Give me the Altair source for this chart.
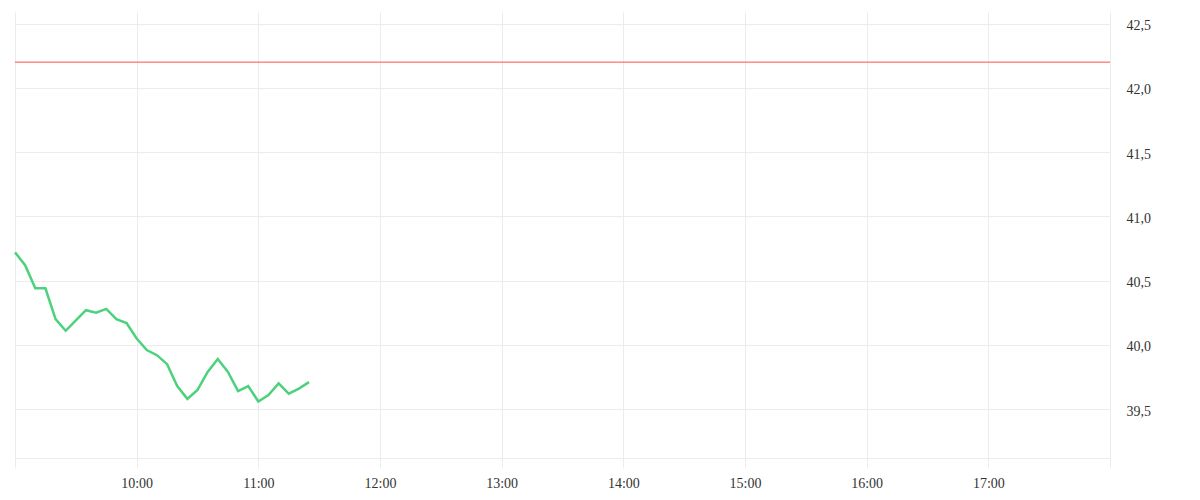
import altair as alt
import pandas as pd

times = ["09:00", "09:05", "09:10", "09:15", "09:20", "09:25", "09:30", "09:35", "09:40", "09:45",
         "09:50", "09:55", "10:00", "10:05", "10:10", "10:15", "10:20", "10:25", "10:30", "10:35",
         "10:40", "10:45", "10:50", "10:55", "11:00", "11:05", "11:10", "11:15", "11:20", "11:25"]
prices = [40.72, 40.62, 40.44, 40.44, 40.20, 40.11, 40.19, 40.27, 40.25, 40.28,
          40.20, 40.17, 40.05, 39.96, 39.92, 39.85, 39.68, 39.58, 39.65, 39.79,
          39.89, 39.79, 39.64, 39.68, 39.56, 39.61, 39.70, 39.62, 39.66, 39.71]
reference_level = [42.2]
y_ticks = [39.5, 40.0, 40.5, 41.0, 41.5, 42.0, 42.5]
hours = [9, 10, 11, 12, 13, 14, 15, 16, 17, 18]

df = pd.DataFrame({"t": ["2024-01-01T" + t + ":00" for t in times], "price": prices})
ref = pd.DataFrame({"level": reference_level})

FONT = "Liberation Serif"
GRID = "#ececec"

x_scale = alt.Scale(domain=[alt.DateTime(year=2024, month=1, date=1, hours=9),
                            alt.DateTime(year=2024, month=1, date=1, hours=18)])
y_scale = alt.Scale(domain=[39.12, 42.59], nice=False, zero=False)

x_axis = alt.Axis(
    title=None,
    values=[alt.DateTime(year=2024, month=1, date=1, hours=h) for h in hours],
    labelExpr="hours(datum.value) >= 10 && hours(datum.value) <= 17 ? timeFormat(datum.value, '%H:%M') : ''",
    grid=True, gridColor=GRID, gridWidth=1,
    domain=True, domainColor=GRID, domainWidth=1,
    ticks=True, tickColor=GRID, tickSize=10, tickWidth=1,
    labelFont=FONT, labelFontSize=14, labelColor="#333333", labelPadding=8,
)
y_axis = alt.Axis(
    title=None, orient="right", values=y_ticks,
    labelExpr="replace(format(datum.value, '.1f'), '.', ',')",
    grid=True, gridColor=GRID, gridWidth=1,
    domain=False, ticks=False,
    labelFont=FONT, labelFontSize=14, labelColor="#333333", labelPadding=16,
    labelOffset=2,
)

line = alt.Chart(df).mark_line(color="#4cd27c", strokeWidth=2.5).encode(
    x=alt.X("t:T", scale=x_scale, axis=x_axis),
    y=alt.Y("price:Q", scale=y_scale, axis=y_axis),
)

rule = alt.Chart(ref).mark_rule(color="#ff4d4d", strokeWidth=1).encode(
    y=alt.Y("level:Q", scale=y_scale),
)

chart = alt.layer(line, rule).properties(
    width=1095, height=446,
    autosize=alt.AutoSizeParams(type="none"),
    padding={"left": 7, "top": 4, "right": 80, "bottom": 40},
).configure_view(stroke=None)

chart.save("out.html", embed_options={"renderer": "svg", "actions": False})
